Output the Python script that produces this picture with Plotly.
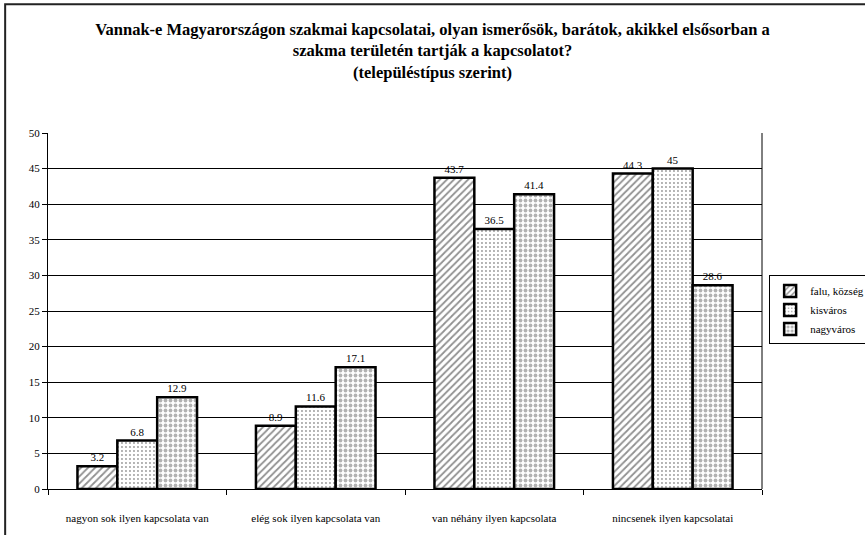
import plotly.graph_objects as go

categories = [
    "nagyon sok ilyen kapcsolata van",
    "elég sok ilyen kapcsolata van",
    "van néhány ilyen kapcsolata",
    "nincsenek ilyen kapcsolatai",
]
falu = [3.2, 8.9, 43.7, 44.3]
kisvaros = [6.8, 11.6, 36.5, 45]
nagyvaros = [12.9, 17.1, 41.4, 28.6]
y_ticks = list(range(0, 51, 5))

SERIF = "Liberation Serif, DejaVu Serif, serif"

series = [
    ("falu, község", falu, dict(shape="/", size=5, solidity=0.35, fgcolor="#222222", bgcolor="white")),
    ("kisváros", kisvaros, dict(shape=".", size=4, solidity=0.18, fgcolor="#333333", bgcolor="white")),
    ("nagyváros", nagyvaros, dict(shape=".", size=5, solidity=0.45, fgcolor="#666666", bgcolor="white")),
]

fig = go.Figure()
for name, vals, pat in series:
    fig.add_trace(go.Bar(
        x=categories, y=vals, name=name,
        marker=dict(color="white", pattern=pat, line=dict(color="black", width=2.5)),
        text=[f"{v:g}" for v in vals],
        textposition="outside",
        textfont=dict(family=SERIF, size=11, color="black"),
        cliponaxis=False,
    ))

# outer frame of the chart (runs off the right and bottom edges)
fig.add_shape(type="rect", xref="paper", yref="paper",
              x0=-0.06, x1=1.3, y0=-0.5, y1=1.362,
              line=dict(color="#222222", width=2), layer="below")

# right edge of plot area
fig.add_shape(type="line", xref="paper", yref="paper", x0=1, x1=1, y0=0, y1=1,
              line=dict(color="black", width=1))

fig.update_layout(
    width=865, height=535,
    paper_bgcolor="white", plot_bgcolor="white",
    margin=dict(l=48, r=103, t=133, b=46, autoexpand=False),
    barmode="group", bargap=0.33, bargroupgap=0,
    font=dict(family=SERIF, size=11, color="black"),
    title=dict(
        text="Vannak-e Magyarországon szakmai kapcsolatai, olyan ismerősök, barátok, akikkel elsősorban a<br>"
             "szakma területén tartják a kapcsolatot?<br>(településtípus szerint)",
        x=0.5, xanchor="center", y=0.935, yanchor="top",
        font=dict(family=SERIF, size=16.5, color="black", weight="bold"),
    ),
    legend=dict(
        x=1.01, y=0.6, xanchor="left", yanchor="top",
        bordercolor="black", borderwidth=1, bgcolor="white",
        font=dict(family=SERIF, size=11), tracegroupgap=0,
        itemwidth=30,
    ),
    xaxis=dict(
        showline=True, linecolor="black", linewidth=1,
        ticks="outside", tickson="boundaries", ticklen=5, tickcolor="black",
        ticklabelstandoff=19,
        tickfont=dict(family=SERIF, size=11),
    ),
    yaxis=dict(
        range=[0, 50], tickvals=y_ticks,
        showline=True, linecolor="black", linewidth=1,
        ticks="outside", ticklen=5, tickcolor="black",
        showgrid=True, gridcolor="black", gridwidth=1,
        zeroline=False,
        tickfont=dict(family=SERIF, size=11),
    ),
)

fig.write_html("out.html", config={"displayModeBar": False},
               post_script="document.body.style.margin='0';")
